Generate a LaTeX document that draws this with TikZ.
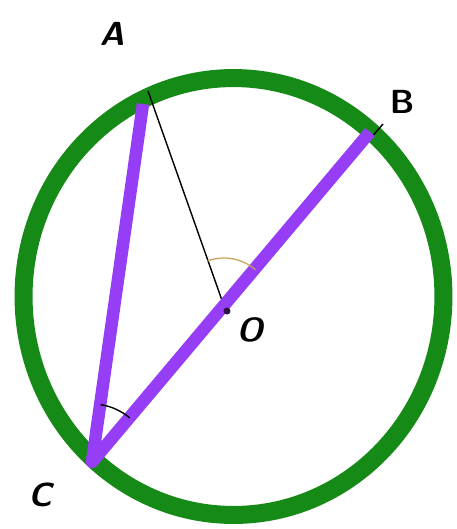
\documentclass[tikz,border=0pt]{standalone}
\usepackage{tikz}
\definecolor{ringgreen}{RGB}{22,138,22}
\definecolor{chordviolet}{RGB}{150,62,245}
\definecolor{angletan}{RGB}{200,160,90}
\newcommand{\pt}[1]{\fontsize{19}{22}\selectfont\sffamily\bfseries\itshape #1}

\begin{document}
\begin{tikzpicture}[x=0.02cm,y=-0.02cm]
	\useasboundingbox (0,0) rectangle (457,529);
	\coordinate (O) at (224,306);
	\coordinate (A) at (148,91);
	\coordinate (B) at (383,124);
	\coordinate (C) at (92,462);
	\coordinate (Ain) at (143,104);
	\coordinate (Bin) at (370,132);
	% the circle
	\draw[ringgreen, line width=0.36cm] (233.5,296.5) ellipse [x radius=4.2cm, y radius=4.37cm];
	% radii
	\draw[line width=0.8pt] (O) -- (A);
	\draw[line width=0.8pt] (O) -- (B);
	% triangle
	\draw[chordviolet, line width=0.25cm, line join=round] (Ain) -- (C) -- (Bin);
	\fill[black!70!chordviolet] (O) ++(0.06cm,-0.1cm) circle (0.07cm);
	% angles
	\draw[angletan, line width=0.7pt] (O) ++(49:0.96cm) arc[start angle=49, end angle=110, radius=0.96cm];
	\draw[line width=0.8pt] (C) ++(49.5:1.16cm) arc[start angle=49.5, end angle=81.5, radius=1.16cm];
	\node (labA) at (112,34) {\pt{A}};
	\node (labB) at (402,102) {\fontsize{19}{22}\selectfont\sffamily\bfseries B};
	\node (labC) at (40,495) {\pt{C}};
	\node (labO) at (250,330) {\pt{O}};
\end{tikzpicture}
\end{document}
